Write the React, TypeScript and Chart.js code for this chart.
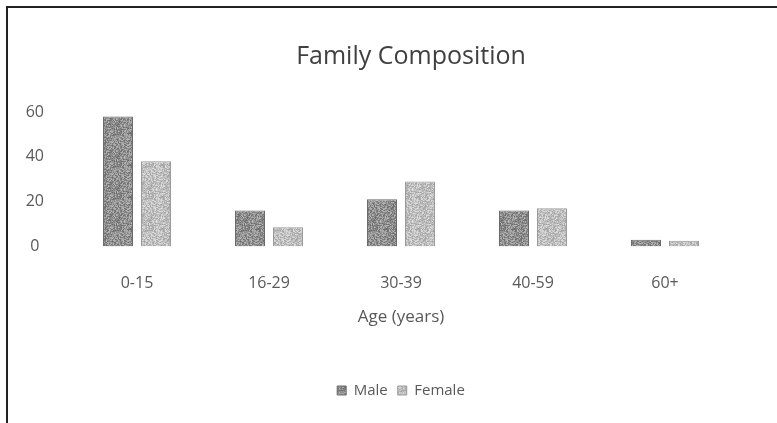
import React, { useEffect, useRef } from "react";
import { Chart, registerables } from "chart.js";

Chart.register(...registerables);

const categories = ["0-15", "16-29", "30-39", "40-59", "60+"];
const maleValues = [58, 16, 21, 16, 3];
const femaleValues = [38, 8.5, 29, 17, 2.5];
const seriesNames = ["Male", "Female"];
const chartTitle = "Family Composition";
const xAxisTitle = "Age (years)";

const FONT = "'Open Sans', 'DejaVu Sans', sans-serif";

function hash(x: number, y: number): number {
  let h = (x * 374761393 + y * 668265263) | 0;
  h = (h ^ (h >>> 13)) | 0;
  h = Math.imul(h, 1274126177);
  h = h ^ (h >>> 16);
  return (h >>> 0) / 4294967295;
}

function makePattern(base: number, spread: number): CanvasPattern | string {
  const S = 32;
  const c = document.createElement("canvas");
  c.width = S;
  c.height = S;
  const ctx = c.getContext("2d");
  if (!ctx) return `rgb(${base},${base},${base})`;
  const img = ctx.createImageData(S, S);
  for (let y = 0; y < S; y++) {
    for (let x = 0; x < S; x++) {
      const k = hash(x, y) - 0.5;
      const v = Math.max(0, Math.min(255, Math.round(base + k * spread)));
      const i = (y * S + x) * 4;
      img.data[i] = v;
      img.data[i + 1] = v;
      img.data[i + 2] = v;
      img.data[i + 3] = 255;
    }
  }
  ctx.putImageData(img, 0, 0);
  const p = ctx.createPattern(c, "repeat");
  return p || `rgb(${base},${base},${base})`;
}

const framePlugin = {
  id: "frameAndTitle",
  beforeDraw(chart: any) {
    const ctx = chart.ctx;
    ctx.save();
    ctx.fillStyle = "#ffffff";
    ctx.fillRect(0, 0, chart.width, chart.height);
    ctx.fillStyle = "#222222";
    ctx.fillRect(6, 6, 2, chart.height - 6);
    ctx.fillRect(6, 6, chart.width - 6, 2);
    ctx.restore();
  },
  afterDraw(chart: any) {
    const ctx = chart.ctx;
    ctx.save();
    ctx.fillStyle = "#404040";
    ctx.font = `normal 25px ${FONT}`;
    ctx.textAlign = "center";
    ctx.textBaseline = "middle";
    const cx = (chart.chartArea.left + chart.chartArea.right) / 2 + 10;
    ctx.fillText(chartTitle, cx, 57);
    ctx.restore();
  },
};

export default function App() {
  const ref = useRef<HTMLCanvasElement | null>(null);

  useEffect(() => {
    document.body.style.margin = "0";
    if (!ref.current) return;
    const malePat = makePattern(145, 80);
    const femalePat = makePattern(192, 64);
    const chart = new Chart(ref.current, {
      type: "bar",
      data: {
        labels: categories,
        datasets: [
          {
            label: seriesNames[0],
            data: maleValues,
            backgroundColor: malePat as any,
            borderColor: "#6a6a6a",
            borderWidth: 1,
            categoryPercentage: 0.576,
            barPercentage: 0.79,
          },
          {
            label: seriesNames[1],
            data: femaleValues,
            backgroundColor: femalePat as any,
            borderColor: "#9a9a9a",
            borderWidth: 1,
            categoryPercentage: 0.576,
            barPercentage: 0.79,
          },
        ],
      },
      options: {
        responsive: false,
        animation: false,
        layout: { padding: { left: 10, right: 46, top: 112, bottom: 15 } },
        plugins: {
          title: { display: false },
          legend: {
            position: "bottom",
            fullSize: false,
            labels: {
              boxWidth: 9,
              boxHeight: 9,
              color: "#595959",
              font: { family: FONT, size: 15 },
              padding: 10,
            },
          },
          tooltip: { enabled: false },
        },
        scales: {
          x: {
            grid: { display: false, drawTicks: false },
            border: { display: false },
            ticks: {
              color: "#595959",
              font: { family: FONT, size: 16 },
              padding: 27,
            },
            title: {
              display: true,
              text: xAxisTitle,
              color: "#595959",
              font: { family: FONT, size: 17 },
              padding: { top: -13, bottom: 46 },
            },
          },
          y: {
            min: 0,
            max: 60,
            grid: { display: false, drawTicks: false },
            border: { display: false },
            ticks: {
              stepSize: 20,
              color: "#595959",
              font: { family: FONT, size: 16 },
              crossAlign: "center",
              padding: 27,
            },
            afterFit: (scale: any) => {
              scale.width = 61;
            },
          },
        },
      },
      plugins: [framePlugin],
    });
    return () => chart.destroy();
  }, []);

  return (
    <div style={{ position: "relative", width: 777, height: 423, background: "#fff" }}>
      <canvas ref={ref} width={777} height={423} style={{ display: "block" }} />
    </div>
  );
}
